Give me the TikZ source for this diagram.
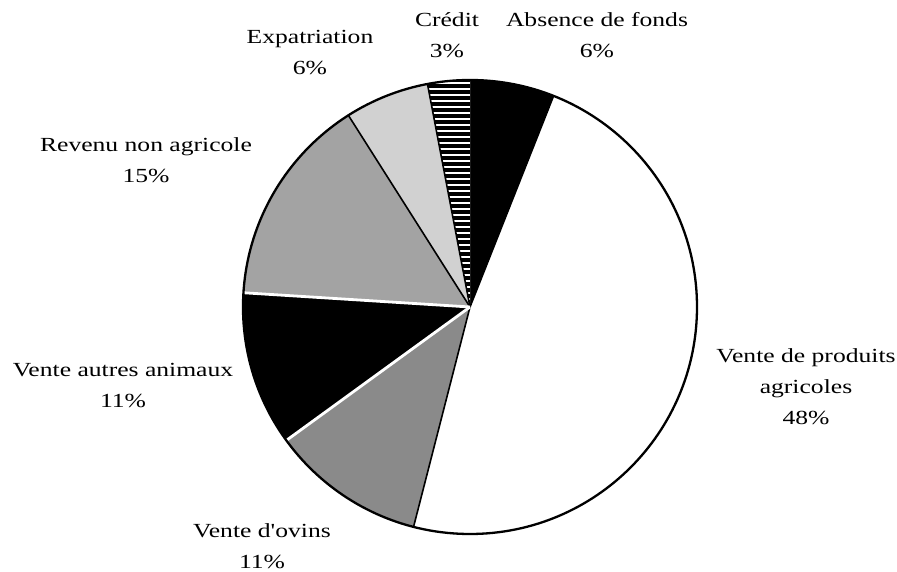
\documentclass[tikz,border=0pt]{standalone}
\usepackage{fontspec}
\setmainfont{Liberation Serif}
\usepackage{graphicx}
% labels are set in a horizontally widened serif
\newcommand\wide[1]{\scalebox{1.28}[1]{#1}}
\begin{document}
\begin{tikzpicture}[x=1pt,y=1pt,
  lbl/.style={align=center, inner sep=0pt, font=\fontsize{20}{31}\selectfont},
  rim/.style={line width=2.3pt},
  seam/.style={line width=1.6pt},
  gap/.style={white, line width=2.8pt}]
\useasboundingbox (0,0) rectangle (897,572);
\coordinate (O) at (470,265);
\def\R{227}
% sector: fill/draw options, start angle, end angle
\newcommand\sector[3]{\path[#1] (O) -- ++(#2:\R) arc[start angle=#2, end angle=#3, radius=\R] -- cycle;}

% slices, counter-clockwise from the right side
\sector{fill=white}{-104.4}{68.4}     % Vente de produits agricoles 48%
\sector{fill=black}{68.4}{90}         % Absence de fonds 6%
\sector{fill=white}{90}{100.8}        % Crédit 3%
\sector{fill=black!18}{100.8}{122.4}  % Expatriation 6%
\sector{fill=black!36}{122.4}{176.4}  % Revenu non agricole 15%
\sector{fill=black}{176.4}{216}       % Vente autres animaux 11%
\sector{fill=black!46}{216}{255.6}    % Vente d'ovins 11%

% horizontal hatching of the Crédit slice
\begin{scope}
  \clip (O) -- ++(90:\R) arc[start angle=90, end angle=100.8, radius=\R] -- cycle;
  \foreach \k in {0,...,40}
    \draw[line width=3.2pt] (420,{492-\k*6}) -- (480,{492-\k*6});
\end{scope}

% slice boundaries
\draw[seam] (O) -- ++(100.8:\R);
\draw[seam] (O) -- ++(122.4:\R);
\draw[seam] (O) -- ++(68.4:\R);
\draw[seam] (O) -- ++(255.6:\R);
\draw[gap] (O) -- ++(176.4:\R);
\draw[gap] (O) -- ++(216:\R);

% outline
\draw[rim] (O) circle[radius=\R];

% labels
\node[lbl] (credit)  at (447,536.5) {\wide{Crédit}\\\wide{3\%}};
\node[lbl] (fonds)   at (597,536.5) {\wide{Absence de fonds}\\\wide{6\%}};
\node[lbl] (expat)   at (310,519.5) {\wide{Expatriation}\\\wide{6\%}};
\node[lbl] (revenu)  at (146,411.5) {\wide{Revenu non agricole}\\\wide{15\%}};
\node[lbl] (autres)  at (123,186.5) {\wide{Vente autres animaux}\\\wide{11\%}};
\node[lbl] (ovins)   at (262,25.5)  {\wide{Vente d\textquotesingle ovins}\\\wide{11\%}};
\node[lbl] (produits) at (806,185)  {\wide{Vente de produits}\\\wide{agricoles}\\\wide{48\%}};
\end{tikzpicture}
\end{document}
